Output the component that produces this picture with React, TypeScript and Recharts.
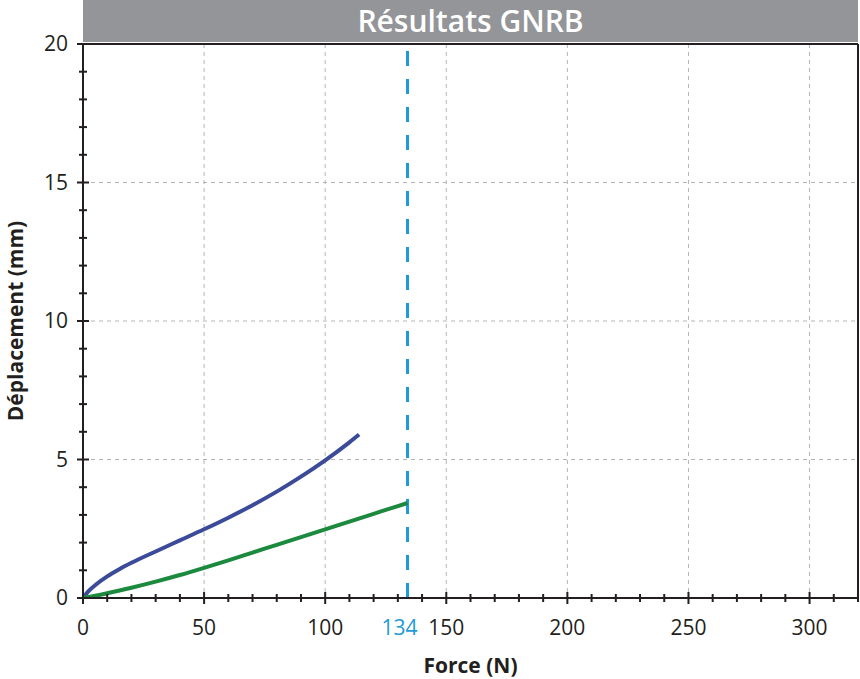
import * as React from 'react';
import { LineChart, Line, XAxis, YAxis, CartesianGrid, ReferenceLine } from 'recharts';

const blueForce = [0, 2, 5, 10, 15, 20, 30, 40, 50, 60, 70, 80, 90, 100, 110, 114];
const blueDisp = [0, 0.22, 0.46, 0.78, 1.04, 1.27, 1.68, 2.08, 2.48, 2.9, 3.35, 3.84, 4.38, 4.97, 5.62, 5.9];

const greenForce = [0, 5, 10, 20, 30, 40, 50, 60, 70, 80, 90, 100, 110, 120, 130, 134];
const greenDisp = [0, 0.08, 0.17, 0.37, 0.59, 0.83, 1.09, 1.36, 1.64, 1.92, 2.2, 2.48, 2.76, 3.04, 3.32, 3.43];

const xTicks = [0, 10, 20, 30, 40, 50, 60, 70, 80, 90, 100, 110, 120, 130, 134, 140, 150, 160, 170, 180, 190, 200, 210, 220, 230, 240, 250, 260, 270, 280, 290, 300, 310, 320];
const yTicks = [0, 1, 2, 3, 4, 5, 6, 7, 8, 9, 10, 11, 12, 13, 14, 15, 16, 17, 18, 19, 20];
const xGrid = [50, 100, 150, 200, 250, 300];
const yGrid = [5, 10, 15];
const limitForce = 134;

const blueData = blueForce.map((f, i) => ({ force: f, disp: blueDisp[i] }));
const greenData = greenForce.map((f, i) => ({ force: f, disp: greenDisp[i] }));

const INK = '#231f20';
const FONT = '"Open Sans", sans-serif';

const XTick = (props: any) => {
  const { x, y, payload } = props;
  const v = payload.value;
  if (v === limitForce) {
    return (
      <text x={x - 8} y={y + 37} textAnchor="middle" fontSize={21} fill="#1e9ad6" fontFamily={FONT}>
        {v}
      </text>
    );
  }
  const major = v % 50 === 0;
  const len = major ? 6 : 4;
  return (
    <g>
      <line x1={x} x2={x} y1={y - len} y2={y + len} stroke={INK} strokeWidth={2} />
      {major && v < 320 && (
        <text x={x} y={y + 37} textAnchor="middle" fontSize={21} fill={INK} fontFamily={FONT}>
          {v}
        </text>
      )}
    </g>
  );
};

const YTick = (props: any) => {
  const { x, y, payload } = props;
  const v = payload.value;
  const major = v % 5 === 0;
  const len = major ? 6 : 4;
  return (
    <g>
      <line x1={x - len} x2={x + len} y1={y} y2={y} stroke={INK} strokeWidth={2} />
      {major && (
        <text x={x - 15} y={y + 7} textAnchor="end" fontSize={21} fill={INK} fontFamily={FONT}>
          {v}
        </text>
      )}
    </g>
  );
};

export default function App() {
  return (
    <div style={{ position: 'absolute', left: 0, top: 0, width: 860, height: 679, background: '#fff' }}>
      <div
        style={{
          position: 'absolute',
          left: 83,
          top: 0,
          width: 775,
          height: 42,
          background: '#939598',
          color: '#fff',
          fontFamily: FONT,
          fontWeight: 600,
          fontSize: 30,
          lineHeight: '42px',
          textAlign: 'center',
        }}
      >
        Résultats GNRB
      </div>
      <LineChart width={860} height={679} margin={{ top: 44, right: 2, bottom: 0, left: 0 }}>
        <CartesianGrid
          stroke="#b5b5b5"
          strokeDasharray="4 4"
          horizontalValues={yGrid}
          verticalValues={xGrid}
        />
        <XAxis
          type="number"
          dataKey="force"
          domain={[0, 320]}
          allowDataOverflow
          ticks={xTicks}
          interval={0}
          tickSize={0}
          tickMargin={0}
          tickLine={false}
          tick={<XTick />}
          height={81}
          axisLine={{ stroke: INK, strokeWidth: 2 }}
          label={{
            value: 'Force (N)',
            position: 'insideBottom',
            offset: 6,
            fontSize: 21,
            fontWeight: 700,
            fill: INK,
            fontFamily: FONT,
          }}
        />
        <YAxis
          type="number"
          dataKey="disp"
          domain={[0, 20]}
          allowDataOverflow
          ticks={yTicks}
          interval={0}
          tickSize={0}
          tickMargin={0}
          tickLine={false}
          tick={<YTick />}
          width={83}
          axisLine={{ stroke: INK, strokeWidth: 2 }}
          label={{
            value: 'Déplacement (mm)',
            angle: -90,
            position: 'insideLeft',
            offset: 16,
            fontSize: 21,
            fontWeight: 700,
            fill: INK,
            fontFamily: FONT,
            style: { textAnchor: 'middle' },
          }}
        />
        <ReferenceLine y={20} stroke={INK} strokeWidth={2} />
        <ReferenceLine x={320} stroke={INK} strokeWidth={2} />
        <ReferenceLine x={limitForce} stroke="#1e9ad6" strokeWidth={3} strokeDasharray="15 13" />
        <Line
          data={blueData}
          type="monotone"
          dataKey="disp"
          stroke="#3b4b9a"
          strokeWidth={4}
          dot={false}
          isAnimationActive={false}
        />
        <Line
          data={greenData}
          type="monotone"
          dataKey="disp"
          stroke="#1b8a3e"
          strokeWidth={4}
          dot={false}
          isAnimationActive={false}
        />
      </LineChart>
    </div>
  );
}
